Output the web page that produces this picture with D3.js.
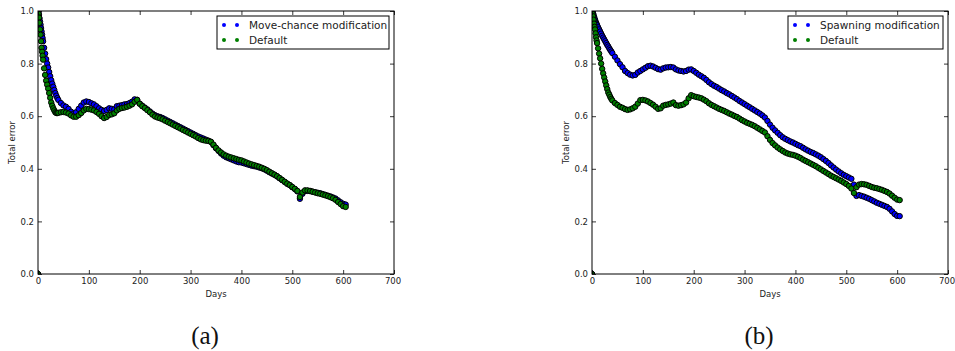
<!DOCTYPE html>
<html>
<head>
<meta charset="utf-8">
<script src="https://cdn.jsdelivr.net/npm/d3@7"></script>
<style>
  html, body { margin: 0; padding: 0; background: #fff; }
  svg { display: block; }
  text { font-family: "DejaVu Sans", sans-serif; fill: #222; }
  .caption { font-family: "Liberation Serif", "DejaVu Serif", serif; fill: #111; }
</style>
</head>
<body>
<svg id="chart" width="955" height="351"></svg>
<script>
const days = [0, 1, 2, 3, 4, 5, 6, 7, 8, 9, 10, 12, 14, 16, 18, 20, 22, 24, 26, 28, 30, 32, 34, 36, 38, 40,
  45, 50, 55, 60, 65, 70, 75, 80, 85, 90, 95, 100, 105, 110, 115, 120, 125, 130, 135, 140, 145, 150,
  155, 160, 165, 170, 175, 180, 185, 190, 195, 200, 205, 210, 215, 220, 225, 230, 235, 240, 245, 250,
  255, 260, 265, 270, 275, 280, 285, 290, 295, 300, 305, 310, 315, 320, 325, 330, 335, 340, 345, 350,
  355, 360, 365, 370, 375, 380, 385, 390, 395, 400, 405, 410, 415, 420, 425, 430, 435, 440, 445, 450,
  455, 460, 465, 470, 475, 480, 485, 490, 495, 500, 505, 510, 515, 520, 525, 530, 535, 540, 545, 550,
  555, 560, 565, 570, 575, 580, 585, 590, 595, 600, 605];

// panel (a)
const moveChanceError = [0, 0.995, 0.985, 0.972, 0.96, 0.948, 0.935, 0.922, 0.91, 0.897, 0.885, 0.86, 0.838, 0.817, 0.8, 0.785, 0.768, 0.752, 0.737, 0.724, 0.712, 0.70, 0.688, 0.678, 0.669, 0.662,
  0.65, 0.641, 0.636, 0.628, 0.617, 0.61, 0.615, 0.628, 0.64, 0.652, 0.656, 0.654, 0.649, 0.645, 0.638, 0.63, 0.624, 0.62, 0.624, 0.63, 0.628, 0.626,
  0.638, 0.64, 0.642, 0.645, 0.646, 0.65, 0.655, 0.664, 0.662, 0.648, 0.64, 0.633, 0.626, 0.618, 0.61, 0.604, 0.60, 0.597, 0.593, 0.588,
  0.583, 0.578, 0.573, 0.568, 0.563, 0.558, 0.553, 0.548, 0.543, 0.538, 0.533, 0.528, 0.523, 0.519, 0.515, 0.511, 0.507, 0.502, 0.49, 0.478,
  0.468, 0.458, 0.45, 0.444, 0.44, 0.436, 0.432, 0.428, 0.425, 0.424, 0.421, 0.418, 0.415, 0.412, 0.41, 0.408, 0.405, 0.402, 0.398, 0.393,
  0.387, 0.382, 0.377, 0.371, 0.364, 0.357, 0.35, 0.343, 0.338, 0.33, 0.323, 0.314, 0.286, 0.305, 0.316, 0.316, 0.315, 0.313, 0.311, 0.309,
  0.307, 0.304, 0.301, 0.298, 0.295, 0.291, 0.287, 0.28, 0.273, 0.267, 0.264];
const defaultErrorA = [0, 0.99, 0.975, 0.955, 0.93, 0.91, 0.885, 0.86, 0.845, 0.83, 0.815, 0.782, 0.757, 0.735, 0.72, 0.705, 0.688, 0.67, 0.652, 0.64, 0.63, 0.622, 0.615, 0.612, 0.612, 0.613,
  0.615, 0.616, 0.614, 0.61, 0.603, 0.598, 0.598, 0.604, 0.612, 0.622, 0.628, 0.627, 0.625, 0.622, 0.616, 0.609, 0.6, 0.593, 0.597, 0.605, 0.607, 0.611,
  0.622, 0.628, 0.631, 0.633, 0.636, 0.64, 0.645, 0.655, 0.662, 0.647, 0.638, 0.631, 0.623, 0.615, 0.606, 0.599, 0.595, 0.592, 0.588, 0.583,
  0.578, 0.573, 0.568, 0.563, 0.558, 0.553, 0.548, 0.543, 0.538, 0.533, 0.528, 0.523, 0.517, 0.512, 0.509, 0.507, 0.506, 0.503, 0.492, 0.48,
  0.47, 0.462, 0.455, 0.45, 0.446, 0.443, 0.44, 0.437, 0.434, 0.432, 0.428, 0.424, 0.42, 0.417, 0.414, 0.411, 0.408, 0.404, 0.4, 0.395,
  0.389, 0.383, 0.378, 0.372, 0.365, 0.358, 0.351, 0.344, 0.338, 0.331, 0.324, 0.316, 0.293, 0.31, 0.318, 0.318, 0.316, 0.313, 0.31, 0.307,
  0.305, 0.302, 0.299, 0.296, 0.292, 0.288, 0.282, 0.274, 0.266, 0.258, 0.255];

// panel (b)
const spawningError = [0, 0.995, 0.99, 0.985, 0.978, 0.972, 0.966, 0.96, 0.955, 0.95, 0.946, 0.938, 0.93, 0.922, 0.914, 0.906, 0.899, 0.892, 0.885, 0.878, 0.871, 0.865, 0.858, 0.852, 0.846, 0.84,
  0.826, 0.812, 0.798, 0.786, 0.772, 0.764, 0.758, 0.755, 0.757, 0.766, 0.772, 0.778, 0.784, 0.79, 0.792, 0.789, 0.784, 0.779, 0.777, 0.782, 0.785, 0.786,
  0.787, 0.785, 0.778, 0.774, 0.772, 0.77, 0.772, 0.777, 0.778, 0.772, 0.765, 0.758, 0.752, 0.746, 0.738, 0.729, 0.722, 0.716, 0.711, 0.705,
  0.699, 0.694, 0.688, 0.683, 0.677, 0.671, 0.665, 0.658, 0.652, 0.646, 0.64, 0.634, 0.628, 0.622, 0.616, 0.61, 0.603, 0.595, 0.582, 0.568,
  0.556, 0.546, 0.537, 0.528, 0.52, 0.514, 0.509, 0.504, 0.5, 0.495, 0.49, 0.486, 0.48, 0.474, 0.469, 0.464, 0.46, 0.455, 0.45, 0.444,
  0.437, 0.43, 0.422, 0.413, 0.405, 0.397, 0.39, 0.383, 0.377, 0.372, 0.367, 0.362, 0.34, 0.297, 0.3, 0.297, 0.294, 0.29, 0.286, 0.281,
  0.276, 0.271, 0.267, 0.263, 0.259, 0.255, 0.248, 0.238, 0.228, 0.221, 0.22];
const defaultErrorB = [0, 0.99, 0.98, 0.967, 0.952, 0.94, 0.93, 0.915, 0.9, 0.888, 0.878, 0.858, 0.838, 0.82, 0.8, 0.78, 0.763, 0.747, 0.732, 0.717, 0.703, 0.69, 0.682, 0.673, 0.666, 0.66,
  0.65, 0.643, 0.636, 0.632, 0.627, 0.624, 0.626, 0.63, 0.636, 0.648, 0.661, 0.662, 0.66, 0.656, 0.65, 0.644, 0.636, 0.628, 0.63, 0.64, 0.643, 0.645,
  0.648, 0.652, 0.642, 0.64, 0.642, 0.645, 0.652, 0.668, 0.68, 0.676, 0.673, 0.671, 0.668, 0.663, 0.657, 0.649, 0.643, 0.638, 0.633, 0.628,
  0.624, 0.62, 0.615, 0.61, 0.606, 0.601, 0.597, 0.591, 0.585, 0.58, 0.575, 0.571, 0.567, 0.562, 0.556, 0.55, 0.544, 0.538, 0.524, 0.51,
  0.498, 0.489, 0.481, 0.474, 0.468, 0.462, 0.458, 0.455, 0.453, 0.45, 0.446, 0.441, 0.435, 0.43, 0.425, 0.42, 0.415, 0.41, 0.404, 0.398,
  0.392, 0.386, 0.38, 0.374, 0.369, 0.364, 0.359, 0.354, 0.348, 0.342, 0.335, 0.325, 0.308, 0.33, 0.34, 0.342, 0.341, 0.339, 0.335, 0.331,
  0.328, 0.326, 0.323, 0.32, 0.316, 0.312, 0.306, 0.298, 0.29, 0.283, 0.281];

const xTicks = [0, 100, 200, 300, 400, 500, 600, 700];
const yTicks = [0.0, 0.2, 0.4, 0.6, 0.8, 1.0];

const svg = d3.select('#chart');

// one subplot: left edge of the axes box, legend labels, the two series and the caption
function drawPanel(id, left, legendLeft, labels, series, caption, captionX) {
  const top = 11, width = 356, height = 263;

  const xScale = d3.scaleLinear().domain([0, 700]).range([0, width]);
  const yScale = d3.scaleLinear().domain([0, 1]).range([height, 0]);

  const g = svg.append('g').attr('transform', `translate(${left}, ${top})`);

  g.append('clipPath').attr('id', 'clip-' + id)
    .append('rect').attr('width', width).attr('height', height);

  // markers, default series drawn last so it sits on top
  const colors = ['#0000ff', '#008000'];
  series.forEach((values, k) => {
    g.append('g')
      .attr('clip-path', `url(#clip-${id})`)
      .selectAll('circle')
      .data(days)
      .join('circle')
      .attr('cx', d => xScale(d))
      .attr('cy', (d, i) => yScale(values[i]))
      .attr('r', 2.7)
      .attr('fill', colors[k])
      .attr('stroke', '#000')
      .attr('stroke-width', 1);
  });

  // ticks on all four sides, pointing inward
  const tickLen = 4;
  const fmtY = d3.format('.1f');
  const xAxisG = g.append('g').attr('transform', `translate(0, ${height})`)
    .call(d3.axisBottom(xScale).tickValues(xTicks).tickSize(-tickLen).tickPadding(4).tickFormat(d3.format('d')));
  g.append('g')
    .call(d3.axisTop(xScale).tickValues(xTicks).tickSize(-tickLen).tickFormat(''));
  g.append('g')
    .call(d3.axisLeft(yScale).tickValues(yTicks).tickSize(-tickLen).tickPadding(4).tickFormat(fmtY));
  g.append('g').attr('transform', `translate(${width}, 0)`)
    .call(d3.axisRight(yScale).tickValues(yTicks).tickSize(-tickLen).tickFormat(''));

  g.selectAll('.domain').remove();
  g.selectAll('.tick line').attr('stroke', '#000').attr('stroke-width', 0.8);
  g.selectAll('.tick text').attr('font-size', '8.5px').attr('fill', '#222')
    .style('font-family', '"DejaVu Sans", sans-serif');
  // keep the last x label inside the page
  xAxisG.selectAll('.tick text').filter(d => d === 700).attr('dx', '-1.5px');

  // axes frame
  g.append('rect')
    .attr('width', width).attr('height', height)
    .attr('fill', 'none').attr('stroke', '#000').attr('stroke-width', 1);

  // axis titles
  g.append('text')
    .attr('x', width / 2).attr('y', height + 23)
    .attr('text-anchor', 'middle').attr('font-size', '8.5px')
    .text('Days');
  g.append('text')
    .attr('transform', `translate(${-23}, ${height / 2}) rotate(-90)`)
    .attr('text-anchor', 'middle').attr('font-size', '8.5px')
    .text('Total error');

  // legend
  const lg = g.append('g').attr('transform', `translate(${legendLeft - left}, 5)`);
  const boxW = width - (legendLeft - left) - 5;
  lg.append('rect')
    .attr('width', boxW).attr('height', 33)
    .attr('fill', '#fff').attr('stroke', '#000').attr('stroke-width', 1);
  labels.forEach((label, k) => {
    const y = 9 + k * 15;
    [7, 20].forEach(dx => {
      lg.append('circle').attr('cx', dx).attr('cy', y).attr('r', 2).attr('fill', colors[k]);
    });
    lg.append('text')
      .attr('x', 32).attr('y', y).attr('dy', '0.35em')
      .attr('font-size', '10.5px')
      .text(label);
  });

  // subplot caption
  svg.append('text')
    .attr('class', 'caption')
    .attr('x', captionX).attr('y', 344)
    .attr('text-anchor', 'middle').attr('font-size', '25px')
    .text(caption);
}

drawPanel('a', 38, 217, ['Move-chance modification', 'Default'], [moveChanceError, defaultErrorA], '(a)', 205);
drawPanel('b', 592, 788, ['Spawning modification', 'Default'], [spawningError, defaultErrorB], '(b)', 759);
</script>
</body>
</html>
